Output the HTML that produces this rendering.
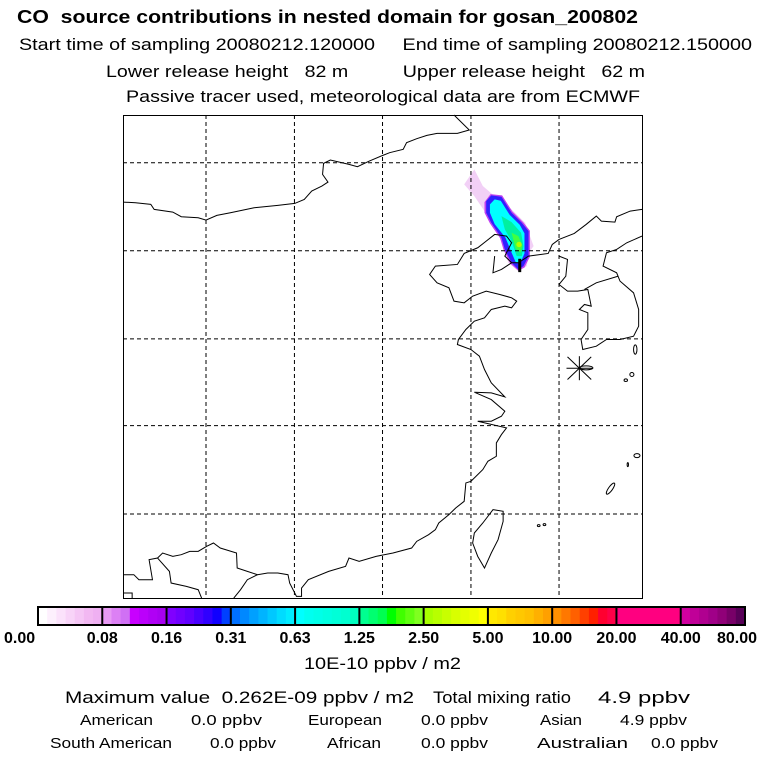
<!DOCTYPE html>
<html><head><meta charset="utf-8"><style>
html,body{margin:0;padding:0;background:#fff;}
svg{display:block;font-family:"Liberation Sans",sans-serif;}
text{white-space:pre;}
.m *{vector-effect:non-scaling-stroke;}
</style></head><body>
<svg width="768" height="768" viewBox="0 0 768 768">
<g fill="#000">
<text x="17" y="23" font-size="18" font-weight="bold" textLength="621" lengthAdjust="spacingAndGlyphs">CO  source contributions in nested domain for gosan_200802</text>
<text x="19" y="50" font-size="17" textLength="733" lengthAdjust="spacingAndGlyphs">Start time of sampling 20080212.120000     End time of sampling 20080212.150000</text>
<text x="106" y="77" font-size="17" textLength="539" lengthAdjust="spacingAndGlyphs">Lower release height   82 m          Upper release height   62 m</text>
<text x="126" y="102" font-size="17" textLength="514" lengthAdjust="spacingAndGlyphs">Passive tracer used, meteorological data are from ECMWF</text>
</g>
<g>
<rect x="123.5" y="115.5" width="519" height="483" fill="#fff" stroke="#000"/>
<g class="m" transform="translate(123,115) scale(0.3388,0.3336) translate(-13,-17)" fill="none" stroke="#000" stroke-width="1">
<g stroke="none">
<polygon fill="#f0c8f4" opacity="0.85" points="1020,225 1050,180 1075,230 1110,260 1160,300 1200,340 1225,410 1210,430 1205,470 1180,485 1150,460 1130,390 1090,320 1050,260"/>
<polygon fill="#c040f0" points="1080,278 1098,254 1132,258 1162,306 1194,338 1214,364 1214,442 1198,474 1180,484 1156,462 1136,420 1126,386 1096,342 1080,310"/>
<polygon fill="#3020ff" points="1085,275 1100,258 1130,262 1160,310 1190,340 1210,365 1210,440 1195,470 1180,480 1160,460 1140,420 1130,385 1100,340 1085,310"/>
<polygon fill="#00ffff" points="1096,285 1110,270 1128,274 1154,316 1184,346 1198,372 1198,432 1186,460 1172,458 1156,420 1142,385 1110,344 1096,310"/>
<polygon fill="#00f0a0" points="1130,320 1160,338 1188,370 1195,410 1190,440 1175,440 1160,395 1140,360"/>
<polygon fill="#40ff40" points="1160,370 1180,380 1192,410 1186,430 1172,418"/>
<circle cx="1182" cy="405" r="8" fill="#b0ff00"/>
</g>
<g stroke-dasharray="4,3">
<line x1="258" y1="17" x2="258" y2="1465"/><line x1="519" y1="17" x2="519" y2="1465"/><line x1="779" y1="17" x2="779" y2="1465"/><line x1="1040" y1="17" x2="1040" y2="1465"/><line x1="1300" y1="17" x2="1300" y2="1465"/>
<line x1="13" y1="160" x2="1545" y2="160"/><line x1="13" y1="424" x2="1545" y2="424"/><line x1="13" y1="688" x2="1545" y2="688"/><line x1="13" y1="948" x2="1545" y2="948"/><line x1="13" y1="1213" x2="1545" y2="1213"/>
</g>
<g stroke-width="1">
<polyline points="990,17 1035,62 1000,72 940,72 910,78 880,88 850,100 840,120 800,130 780,138 740,155 705,172 680,165 625,152 605,162 602,195 618,218 600,230 570,245 548,270 520,282 470,288 400,295 330,310 290,318 258,332 235,325 185,322 160,308 105,300 95,285 50,280 13,278"/>
<polyline points="1545,300 1510,305 1470,322 1465,338 1425,335 1410,320 1380,345 1345,372 1300,390 1280,405 1268,432 1210,440 1180,460 1160,460 1140,440 1160,400 1145,380 1110,375 1085,395 1060,415 1020,432 1000,465 935,470 918,495 940,520 975,535 990,575 1020,580 1045,560 1085,545 1125,555 1160,565 1175,575 1160,595 1140,590 1100,600 1080,625 1050,635 1025,660 1003,690 1000,705 1040,720 1065,740 1080,780 1100,820 1140,862 1100,850 1050,848 1100,870 1140,905 1130,920 1100,935 1060,935 1145,955 1130,975 1115,1000 1115,1040 1090,1055 1075,1080 1040,1115 1025,1120 1020,1175 995,1195 975,1215 945,1240 935,1260 915,1275 880,1295 865,1315 810,1330 760,1340 710,1355 680,1345 670,1370 620,1385 560,1410 540,1435 540,1460 525,1460 505,1420 500,1395 470,1390 440,1390 410,1395 380,1385 350,1375 348,1330 300,1315 280,1300 260,1310 235,1325 210,1325 185,1335 160,1340 130,1330 115,1345 90,1350 100,1410 60,1410 45,1395 13,1395"/>
<polyline points="1110,440 1105,490 1130,480 1160,460"/>
<polyline points="115,1345 150,1385 155,1420 200,1430 235,1440 245,1465"/>
<polyline points="340,1465 360,1440 380,1410 410,1395"/>
<polyline points="13,1450 40,1450 40,1465"/>
<polyline points="1545,380 1500,400 1470,420 1440,430 1430,470 1470,490 1480,515 1520,550 1535,600 1535,650 1520,680 1480,690 1440,690 1410,710 1370,720 1365,690 1385,660 1385,610 1360,600 1375,585 1395,590 1385,540 1355,545 1325,545 1300,525 1320,500 1325,450 1300,440"/>
<polyline points="1475,500 1410,520 1375,540"/>
<polygon points="1105,1200 1135,1205 1135,1235 1120,1290 1100,1330 1080,1375 1060,1340 1045,1300 1050,1270 1075,1240"/>
<ellipse cx="1525" cy="720" rx="5" ry="14"/>
<ellipse cx="1515" cy="795" rx="6" ry="6"/><ellipse cx="1497" cy="812" rx="5" ry="4"/>
<ellipse cx="1530" cy="1038" rx="9" ry="6"/><ellipse cx="1503" cy="1065" rx="2" ry="6"/>
<ellipse cx="1452" cy="1137" rx="6" ry="20" transform="rotate(35 1452 1137)"/>
<ellipse cx="1380" cy="775" rx="20" ry="6"/>
<ellipse cx="1240" cy="1248" rx="4" ry="3"/><ellipse cx="1257" cy="1245" rx="4" ry="3"/>
</g>
<g stroke-width="1">
<line x1="1325" y1="742" x2="1395" y2="810"/><line x1="1325" y1="810" x2="1395" y2="742"/><line x1="1360" y1="740" x2="1360" y2="812"/><line x1="1322" y1="776" x2="1398" y2="776"/>
</g>
<line x1="1184" y1="448" x2="1184" y2="488" stroke-width="3"/>
</g>
</g>
<g id="colorbar"></g>
<g fill="#000" lengthAdjust="spacingAndGlyphs">
<text x="304" y="669" font-size="17" textLength="157" lengthAdjust="spacingAndGlyphs">10E-10 ppbv / m2</text>
<text x="65" y="703" font-size="17" textLength="349" lengthAdjust="spacingAndGlyphs">Maximum value  0.262E-09 ppbv / m2</text>
<text x="433" y="703" font-size="17" textLength="138" lengthAdjust="spacingAndGlyphs">Total mixing ratio</text>
<text x="598" y="703" font-size="17" textLength="92" lengthAdjust="spacingAndGlyphs">4.9 ppbv</text>
<g font-size="15">
<text x="80" y="725" textLength="73" lengthAdjust="spacingAndGlyphs">American</text><text x="191" y="725" textLength="71" lengthAdjust="spacingAndGlyphs">0.0 ppbv</text>
<text x="308" y="725" textLength="74" lengthAdjust="spacingAndGlyphs">European</text><text x="421" y="725" textLength="67" lengthAdjust="spacingAndGlyphs">0.0 ppbv</text>
<text x="540" y="725" textLength="42" lengthAdjust="spacingAndGlyphs">Asian</text><text x="620" y="725" textLength="67" lengthAdjust="spacingAndGlyphs">4.9 ppbv</text>
<text x="50" y="748" textLength="122" lengthAdjust="spacingAndGlyphs">South American</text><text x="210" y="748" textLength="66" lengthAdjust="spacingAndGlyphs">0.0 ppbv</text>
<text x="327" y="748" textLength="54" lengthAdjust="spacingAndGlyphs">African</text><text x="421" y="748" textLength="67" lengthAdjust="spacingAndGlyphs">0.0 ppbv</text>
<text x="537" y="748" textLength="91" lengthAdjust="spacingAndGlyphs">Australian</text><text x="651" y="748" textLength="67" lengthAdjust="spacingAndGlyphs">0.0 ppbv</text>
</g>
</g>
</svg>
<script>
const tickLabels = ["0.00","0.08","0.16","0.31","0.63","1.25","2.50","5.00","10.00","20.00","40.00","80.00"];
const segmentColors = [
 ["#ffffff","#fdf0fd","#fbe2fb","#f8d4f8","#f5c6f5","#f2b8f2","#efb0f2"],
 ["#e89af4","#dc80f4","#d070f4","#c800ff","#bb00fb","#b000f5","#a800f0"],
 ["#8000ff","#7000ff","#6000ff","#4800ff","#3000ff","#1000ff","#0040ff"],
 ["#0070ff","#0088ff","#00a0ff","#00b4ff","#00c8ff","#00dcff","#00ecff"],
 ["#00ffff","#00fff0","#00ffe8","#00ffe0","#00ffd8","#00ffd0","#00ffc0"],
 ["#00ff90","#00ff70","#00ff50","#00ff00","#40ff00","#60ff10","#80ff20"],
 ["#a8ff00","#b8ff00","#c8ff00","#d8ff00","#e4ff00","#f0ff00","#ffff00"],
 ["#ffe800","#ffe000","#ffd000","#ffc800","#ffc000","#ffb000","#ffa000"],
 ["#ff9000","#ff7800","#ff6000","#ff4000","#ff2000","#ff0030","#ff0048"],
 ["#ff0080","#ff0080","#ff0080","#ff0080","#ff0080","#ff0080","#ff0080"],
 ["#d000a0","#c00098","#b00090","#a00088","#900078","#780068","#580058"]
];
const NS="http://www.w3.org/2000/svg";
const cb=document.getElementById('colorbar');
const x0=38,x1=745,y0=607,h=18;
const n=tickLabels.length-1;
const xs=i=>x0+(x1-x0)*i/n;
segmentColors.forEach((cols,i)=>{
  const sx=xs(i),w=(xs(i+1)-sx)/cols.length;
  cols.forEach((c,j)=>{
    const r=document.createElementNS(NS,'rect');
    r.setAttribute('x',sx+j*w);r.setAttribute('y',y0);r.setAttribute('width',w+0.6);r.setAttribute('height',h);r.setAttribute('fill',c);
    
    
    cb.appendChild(r);
  });
});
const fr=document.createElementNS(NS,'rect');
fr.setAttribute('x',x0);fr.setAttribute('y',y0);fr.setAttribute('width',x1-x0);fr.setAttribute('height',h);fr.setAttribute('fill','none');fr.setAttribute('stroke','#000');fr.setAttribute('stroke-width','2');


cb.appendChild(fr);
tickLabels.forEach((t,i)=>{
  if(i>0&&i<n){
    const l=document.createElementNS(NS,'line');
    l.setAttribute('x1',xs(i));l.setAttribute('x2',xs(i));l.setAttribute('y1',y0);l.setAttribute('y2',y0+h);l.setAttribute('stroke','#000');l.setAttribute('stroke-width','2');
    
    
    cb.appendChild(l);
  }
  const tx=document.createElementNS(NS,'text');
  let x=xs(i),anchor='middle';
  if(i===0){x=4;anchor='start';}
  if(i===n){x=757;anchor='end';}
  tx.setAttribute('x',x);tx.setAttribute('y',643);tx.setAttribute('text-anchor',anchor);tx.setAttribute('font-size','16');tx.setAttribute('font-weight','bold');
  
  
  tx.textContent=t;
  cb.appendChild(tx);
});
</script>
</body></html>
